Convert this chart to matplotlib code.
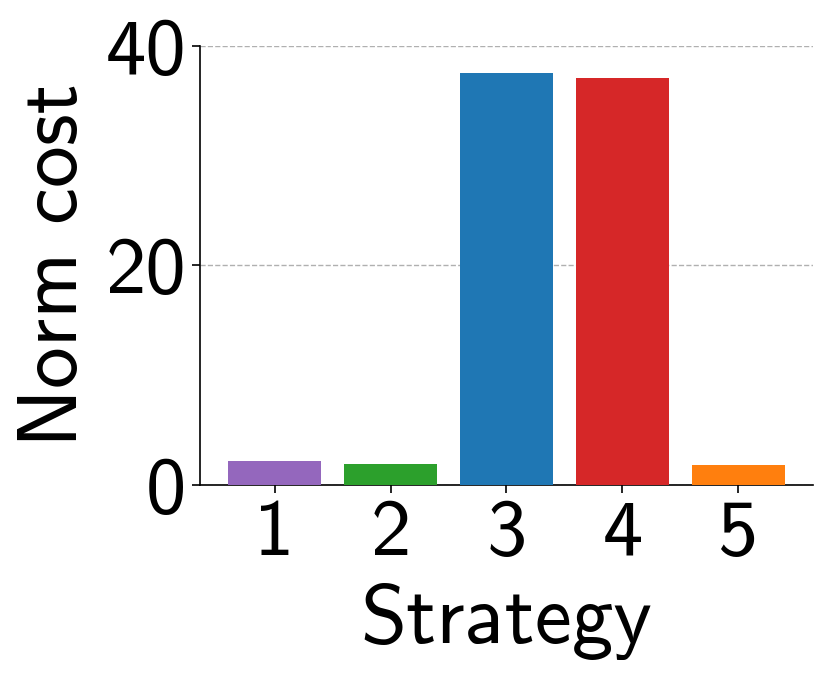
import matplotlib
matplotlib.use('Agg')
import matplotlib.pyplot as plt

strategies = [1, 2, 3, 4, 5]
norm_cost = [2.2, 1.9, 37.5, 37.1, 1.8]
colors = ['#9467bd', '#2ca02c', '#1f77b4', '#d62728', '#ff7f0e']

plt.rcParams['font.family'] = ['cmss10', 'DejaVu Sans']
plt.rcParams['axes.unicode_minus'] = False

fig = plt.figure(figsize=(8.31, 6.82), dpi=100)
ax = fig.add_axes([0.241, 0.289, 0.737, 0.644])

ax.bar(strategies, norm_cost, color=colors, width=0.8, zorder=3)

ax.set_ylim(0, 40)
ax.set_yticks([0, 20, 40])
ax.set_xticks(strategies)
ax.grid(axis='y', linestyle='--', color='#b0b0b0', linewidth=1, zorder=0)

ax.spines['top'].set_visible(False)
ax.spines['right'].set_visible(False)
ax.spines['left'].set_linewidth(1.2)
ax.spines['bottom'].set_linewidth(1.2)
ax.tick_params(labelsize=58, length=6, width=1.2, pad=4)

ax.set_xlabel('Strategy', fontsize=60, labelpad=9)
ax.set_ylabel('Norm cost', fontsize=60, labelpad=9)

fig.savefig('out.png', dpi=100)
